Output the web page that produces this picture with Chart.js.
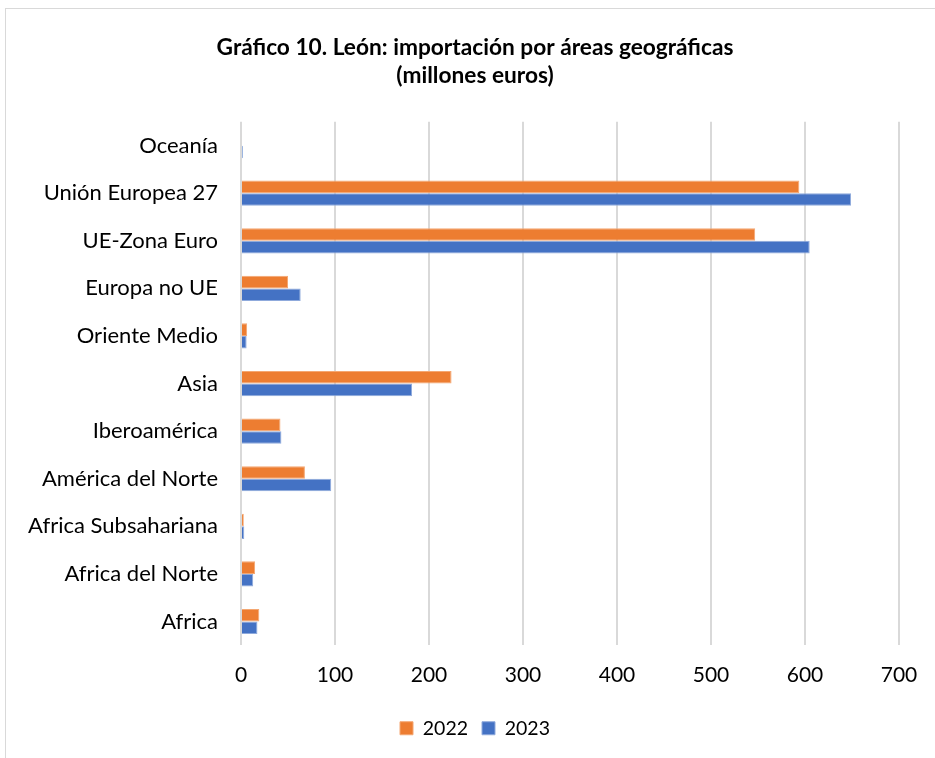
<!DOCTYPE html>
<html>
<head>
<meta charset="utf-8">
<script src="https://cdn.jsdelivr.net/npm/chart.js@4"></script>
<style>
  html, body { margin: 0; padding: 0; background: #fff; overflow: hidden; }
  #wrap { position: absolute; left: 0; top: 0; width: 935px; height: 758px; overflow: hidden; }
  #frame { position: absolute; left: 5px; top: 8px; width: 960px; height: 760px;
           border-left: 1px solid #d9d9d9; border-top: 1px solid #d9d9d9; }
  canvas { position: absolute; left: 0; top: 0; }
</style>
</head>
<body>
<div id="wrap">
  <div id="frame"></div>
  <canvas id="myChart" width="950" height="758"></canvas>
</div>
<script>
// Areas, top to bottom as in the picture
const areas = ['Oceanía', 'Unión Europea 27', 'UE-Zona Euro', 'Europa no UE', 'Oriente Medio',
  'Asia', 'Iberoamérica', 'América del Norte', 'Africa Subsahariana', 'Africa del Norte', 'Africa'];

// millones de euros
const imp2022 = [1, 594, 547, 50, 6.5, 224, 42, 68, 3, 15, 19.5];
const imp2023 = [2, 649, 605, 63.5, 6, 182, 43, 96, 3.5, 13, 17.5];

const xTicks = [0, 100, 200, 300, 400, 500, 600, 700];

const fontFamily = 'Lato, "Open Sans", sans-serif';

const chart = new Chart(document.getElementById('myChart'), {
  type: 'bar',
  data: {
    labels: areas,
    datasets: [{
      label: '2022',
      data: imp2022,
      backgroundColor: '#ED7D31',
      borderColor: '#F4A772',
      borderWidth: 1,
      categoryPercentage: 0.53,
      barPercentage: 1
    }, {
      label: '2023',
      data: imp2023,
      backgroundColor: '#4472C4',
      borderColor: '#8FAADC',
      borderWidth: 1,
      categoryPercentage: 0.53,
      barPercentage: 1
    }]
  },
  options: {
    indexAxis: 'y',
    responsive: false,
    animation: false,
    layout: { padding: { left: 0, right: 0, top: 0, bottom: 10 } },
    plugins: {
      title: {
        display: true,
        text: ['Gráfico 10. León: importación por áreas geográficas', '(millones euros)'],
        color: '#000',
        font: { family: fontFamily, size: 22.7, weight: 'bold', lineHeight: 1.23 },
        padding: { top: 34, bottom: 32 }
      },
      legend: {
        position: 'bottom',
        labels: {
          color: '#000',
          boxWidth: 13,
          boxHeight: 13,
          font: { family: fontFamily, size: 19.5 },
          padding: 14
        }
      },
      tooltip: { enabled: false }
    },
    scales: {
      x: {
        min: 0,
        max: 700,
        afterBuildTicks: (s) => { s.ticks = xTicks.map(v => ({ value: v })); },
        grid: { color: '#d9d9d9', lineWidth: 2, drawTicks: false },
        border: { display: false },
        ticks: { color: '#000', font: { family: fontFamily, size: 21 }, padding: 17 }
      },
      y: {
        afterFit: (s) => { s.width = 241; },
        grid: { display: false, drawTicks: false },
        border: { display: false },
        ticks: { color: '#000', font: { family: fontFamily, size: 22 }, padding: 23 }
      },
      // empty right-hand spacer so the plot ends where the reference's does
      yRight: {
        position: 'right',
        afterFit: (s) => { s.width = 51; },
        grid: { display: false, drawTicks: false },
        border: { display: false },
        ticks: { display: false }
      }
    }
  }
});
</script>
</body>
</html>
